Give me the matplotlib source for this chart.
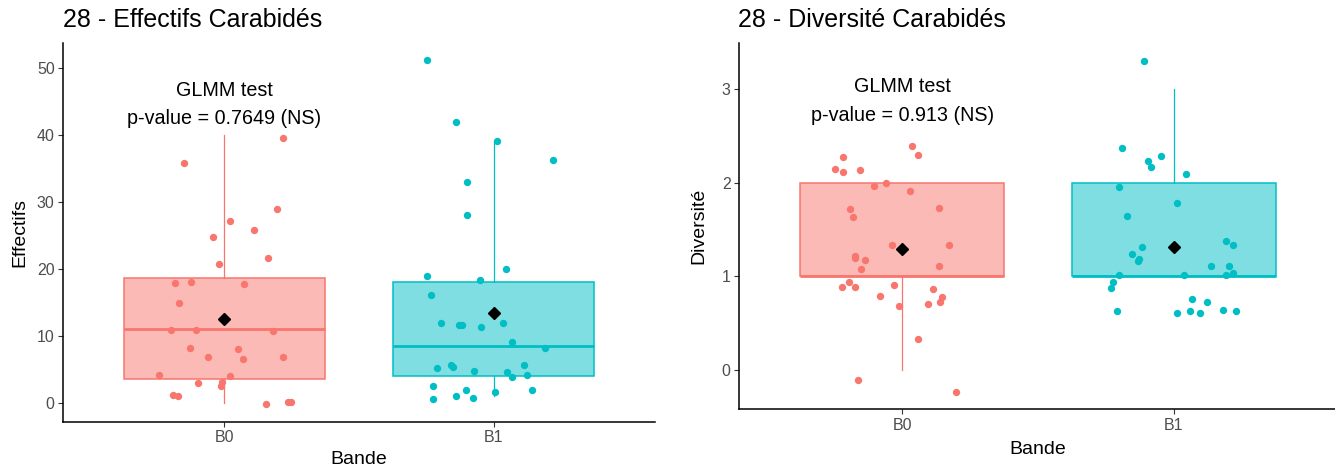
import numpy as np
import matplotlib.pyplot as plt

plt.rcParams['font.family'] = ['Liberation Sans', 'DejaVu Sans']

# ------------------------------
# DATA
# ------------------------------
groups = ['B0', 'B1']
col_line = ['#F8766D', '#00BFC4']

# Effectifs: jittered points (x offset from group centre, value)
eff_b0_dx = [-0.150, 0.217, 0.194, 0.021, 0.108, -0.041, -0.020, 0.160, -0.185, -0.123,
             0.073, -0.170, -0.200, -0.107, 0.181, -0.128, 0.052, -0.061, 0.068, 0.218,
             -0.242, 0.021, -0.097, -0.014, -0.009, -0.191, -0.174, 0.155, 0.235, 0.248]
eff_b0_y = [35.8, 39.5, 29.0, 27.2, 25.8, 24.7, 20.7, 21.7, 17.9, 18.1,
            17.7, 14.9, 10.85, 10.85, 10.7, 8.25, 8.06, 6.8, 6.6, 6.8,
            4.2, 4.0, 3.0, 2.6, 3.1, 1.2, 1.0, -0.2, 0.15, 0.15]
eff_b1_dx = [-0.246, -0.139, 0.011, 0.222, -0.098, -0.098, 0.047, -0.246, -0.051, -0.232,
             -0.196, -0.128, -0.118, -0.046, 0.036, 0.067, 0.191, -0.211, -0.159, -0.152,
             -0.072, 0.051, 0.067, 0.113, 0.124, -0.226, -0.103, 0.144, 0.005, -0.226,
             -0.139, -0.077]
eff_b1_y = [51.1, 41.9, 39.1, 36.2, 33.0, 28.0, 20.0, 19.0, 18.3, 16.1,
            11.9, 11.7, 11.7, 11.3, 11.9, 9.06, 8.2, 5.2, 5.7, 5.3,
            4.8, 4.6, 3.8, 5.7, 4.2, 2.6, 2.0, 2.0, 1.7, 0.6,
            1.0, 0.8]
# box statistics: q1, median, q3, whisker low, whisker high, mean
eff_q1 = [3.6, 4.0]
eff_med = [11.0, 8.55]
eff_q3 = [18.7, 18.1]
eff_wlo = [0, 1]
eff_whi = [40, 39]
eff_mean = [12.6, 13.4]

# Diversite
div_b0_dx = [-0.246, -0.216, -0.216, -0.156, 0.036, 0.060, -0.102, -0.059, 0.029, -0.191,
             -0.180, 0.137, -0.036, 0.174, -0.173, -0.175, -0.136, -0.151, 0.137, -0.221,
             -0.197, -0.173, -0.029, 0.114, 0.146, 0.139, -0.083, 0.096, -0.012, 0.059,
             -0.161, 0.197]
div_b0_y = [2.15, 2.27, 2.12, 2.14, 2.39, 2.30, 1.97, 2.0, 1.91, 1.72,
            1.63, 1.73, 1.33, 1.33, 1.22, 1.20, 1.18, 1.08, 1.11, 0.89,
            0.94, 0.89, 0.91, 0.87, 0.78, 0.73, 0.79, 0.70, 0.68, 0.33,
            -0.11, -0.24]
div_b1_dx = [-0.109, -0.191, -0.048, -0.096, -0.085, 0.043, -0.203, 0.012, -0.174, 0.191,
             0.216, -0.119, -0.156, -0.128, -0.132, 0.137, 0.203, 0.216, 0.191, -0.203,
             0.036, -0.225, -0.233, 0.066, 0.120, -0.210, 0.012, 0.060, 0.096, 0.179,
             0.228]
div_b1_y = [3.30, 2.37, 2.29, 2.23, 2.17, 2.09, 1.96, 1.78, 1.64, 1.38,
            1.33, 1.31, 1.24, 1.19, 1.16, 1.11, 1.11, 1.04, 1.01, 1.02,
            1.02, 0.94, 0.88, 0.76, 0.73, 0.63, 0.61, 0.63, 0.61, 0.64,
            0.63]
div_q1 = [1, 1]
div_med = [1, 1]
div_q3 = [2, 2]
div_wlo = [0, 1]
div_whi = [2, 3]
div_mean = [1.29, 1.31]

titles = ['28 - Effectifs Carabidés', '28 - Diversité Carabidés']
ylabels = ['Effectifs', 'Diversité']
pvalues = ['0.7649', '0.913']


def draw_panel(ax, dxs, ys, q1, med, q3, wlo, whi, mean, yticks, ylim, text_y):
    stats = []
    for i in range(2):
        stats.append(dict(q1=q1[i], med=med[i], q3=q3[i], whislo=wlo[i],
                          whishi=whi[i], fliers=[], label=groups[i]))
    bp = ax.bxp(stats, positions=[1, 2], widths=0.75, patch_artist=True,
                showcaps=False, showfliers=False)
    for i in range(2):
        bp['boxes'][i].set(facecolor=col_line[i] + '80', edgecolor=col_line[i],
                           linewidth=1.1)
        bp['medians'][i].set(color=col_line[i], linewidth=2.0)
        for w in bp['whiskers'][2 * i:2 * i + 2]:
            w.set(color=col_line[i], linewidth=0.9)
    for i in range(2):
        ax.scatter(np.array(dxs[i]) + i + 1, ys[i], s=28, color=col_line[i],
                   linewidths=0, zorder=3)
    ax.plot([1, 2], mean, linestyle='none', marker='D', markersize=6.5,
            color='black', zorder=4)
    ax.set_xlim(0.4, 2.6)
    ax.set_ylim(*ylim)
    ax.set_yticks(yticks)
    ax.set_xticks([1, 2])
    ax.set_xticklabels(groups)
    for s in ['top', 'right']:
        ax.spines[s].set_visible(False)
    for s in ['left', 'bottom']:
        ax.spines[s].set_linewidth(1.1)
    ax.tick_params(length=3.5, width=0.8, color='#333333', labelcolor='#4D4D4D',
                   labelsize=11.5, pad=2.5)
    ax.text(1, text_y, 'GLMM test', ha='center', va='center', fontsize=14.2)


fig = plt.figure(figsize=(13.35, 4.74), dpi=100)
ax1 = fig.add_axes([63 / 1335, 52 / 474, 592 / 1335, 379 / 474])
ax2 = fig.add_axes([739 / 1335, 64.7 / 474, 598 / 1335, 366 / 474])

draw_panel(ax1, [eff_b0_dx, eff_b1_dx], [eff_b0_y, eff_b1_y], eff_q1, eff_med, eff_q3,
           eff_wlo, eff_whi, eff_mean, [0, 10, 20, 30, 40, 50], (-2.84, 53.7), 46.6)
ax1.text(1, 42.4, 'p-value = ' + pvalues[0] + ' (NS)', ha='center', va='center', fontsize=14.2)

draw_panel(ax2, [div_b0_dx, div_b1_dx], [div_b0_y, div_b1_y], div_q1, div_med, div_q3,
           div_wlo, div_whi, div_mean, [0, 1, 2, 3], (-0.42, 3.49), 3.03)
ax2.text(1, 2.72, 'p-value = ' + pvalues[1] + ' (NS)', ha='center', va='center', fontsize=14.2)

for ax, t, yl, lx, ly in [(ax1, titles[0], ylabels[0], -0.073, -0.100),
                          (ax2, titles[1], ylabels[1], -0.067, -0.111)]:
    ax.set_ylabel(yl, fontsize=14)
    ax.yaxis.set_label_coords(lx, 0.5)
    ax.set_xlabel('Bande', fontsize=14)
    ax.xaxis.set_label_coords(0.5, ly)
    ax.xaxis.label.set_va('center')
    ax.yaxis.label.set_va('center')

fig.text(63 / 1335, 1 - 20 / 474, titles[0], fontsize=18, va='center')
fig.text(738 / 1335, 1 - 20 / 474, titles[1], fontsize=18, va='center')

fig.savefig('out.png', dpi=100)
